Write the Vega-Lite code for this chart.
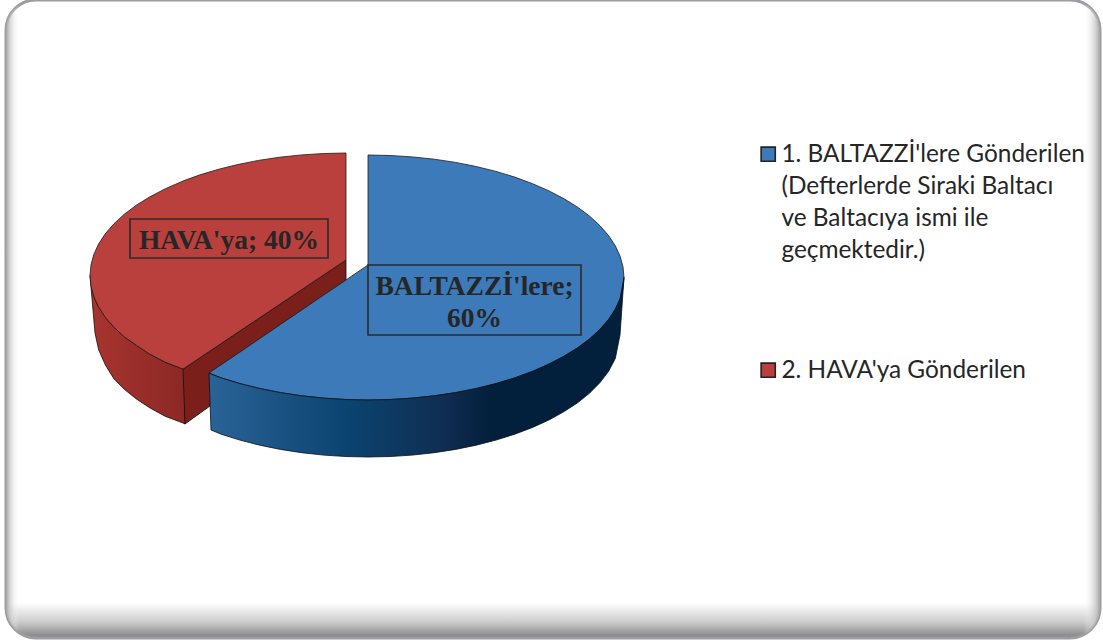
{
"$schema":"https://vega.github.io/schema/vega-lite/v6.json",
"width":1103,"height":641,"padding":0,"autosize":{"type":"none"},
"background":"#ffffff",
"view":{"stroke":null},
"config":{"style":{"guide-label":{"lineHeight":32,"dy":-11}}},
"datasets":{
"frame":[{"x":6,"x2":1100,"y":0,"y2":638}],
"redSide":[
{"x":90,"y":275.5,"y2":275.5},{"x":95,"y":299.6,"y2":333},{"x":98.7,"y":307.2,"y2":350},{"x":105.4,"y":317.4,"y2":365},{"x":114,"y":327.3,"y2":378.9},{"x":124.3,"y":336.8,"y2":389.3},{"x":136.3,"y":345.2,"y2":398.9},{"x":149.9,"y":354.2,"y2":407.9},{"x":165,"y":362.1,"y2":416.2},{"x":183,"y":369,"y2":423},{"x":185,"y":368,"y2":424}],
"redCut":[{"x":183,"y":369,"y2":369},{"x":185,"y":367.7,"y2":424},{"x":346,"y":260,"y2":308}],
"faces":[
{"series":"2. HAVA'ya Gönderilen","x":90,"y":275.5,"y2":275.5},
{"series":"2. HAVA'ya Gönderilen","x":91,"y":264.8,"y2":286.2},
{"series":"2. HAVA'ya Gönderilen","x":93.9,"y":254.2,"y2":296.8},
{"series":"2. HAVA'ya Gönderilen","x":98.7,"y":243.8,"y2":307.2},
{"series":"2. HAVA'ya Gönderilen","x":105.4,"y":233.6,"y2":317.4},
{"series":"2. HAVA'ya Gönderilen","x":114,"y":223.7,"y2":327.3},
{"series":"2. HAVA'ya Gönderilen","x":124.3,"y":214.2,"y2":336.8},
{"series":"2. HAVA'ya Gönderilen","x":136.3,"y":205.2,"y2":345.2},
{"series":"2. HAVA'ya Gönderilen","x":149.9,"y":196.8,"y2":354.2},
{"series":"2. HAVA'ya Gönderilen","x":165,"y":188.9,"y2":362.1},
{"series":"2. HAVA'ya Gönderilen","x":183,"y":181,"y2":369},
{"series":"2. HAVA'ya Gönderilen","x":199.2,"y":175.1,"y2":358.2},
{"series":"2. HAVA'ya Gönderilen","x":218,"y":169.4,"y2":345.6},
{"series":"2. HAVA'ya Gönderilen","x":237.8,"y":164.5,"y2":332.3},
{"series":"2. HAVA'ya Gönderilen","x":258.4,"y":160.4,"y2":318.6},
{"series":"2. HAVA'ya Gönderilen","x":279.7,"y":157.2,"y2":304.3},
{"series":"2. HAVA'ya Gönderilen","x":301.6,"y":154.9,"y2":289.7},
{"series":"2. HAVA'ya Gönderilen","x":323.7,"y":153.5,"y2":274.9},
{"series":"2. HAVA'ya Gönderilen","x":346,"y":153,"y2":260},
{"series":"1. BALTAZZİ'lere Gönderilen","x":209,"y":373,"y2":373},
{"series":"1. BALTAZZİ'lere Gönderilen","x":221.2,"y":364.7,"y2":377.9},
{"series":"1. BALTAZZİ'lere Gönderilen","x":240,"y":352,"y2":383.6},
{"series":"1. BALTAZZİ'lere Gönderilen","x":259.8,"y":338.5,"y2":388.5},
{"series":"1. BALTAZZİ'lere Gönderilen","x":280.4,"y":324.5,"y2":392.6},
{"series":"1. BALTAZZİ'lere Gönderilen","x":301.7,"y":310,"y2":395.8},
{"series":"1. BALTAZZİ'lere Gönderilen","x":323.6,"y":295.1,"y2":398.1},
{"series":"1. BALTAZZİ'lere Gönderilen","x":345.7,"y":280.2,"y2":399.5},
{"series":"1. BALTAZZİ'lere Gönderilen","x":368,"y":265,"y2":400},
{"series":"1. BALTAZZİ'lere Gönderilen","x":368,"y":155,"y2":400},
{"series":"1. BALTAZZİ'lere Gönderilen","x":390.3,"y":155.5,"y2":399.5},
{"series":"1. BALTAZZİ'lere Gönderilen","x":412.4,"y":156.9,"y2":398.1},
{"series":"1. BALTAZZİ'lere Gönderilen","x":434.3,"y":159.2,"y2":395.8},
{"series":"1. BALTAZZİ'lere Gönderilen","x":455.6,"y":162.4,"y2":392.6},
{"series":"1. BALTAZZİ'lere Gönderilen","x":476.2,"y":166.5,"y2":388.5},
{"series":"1. BALTAZZİ'lere Gönderilen","x":496,"y":171.4,"y2":383.6},
{"series":"1. BALTAZZİ'lere Gönderilen","x":514.8,"y":177.1,"y2":377.9},
{"series":"1. BALTAZZİ'lere Gönderilen","x":532.6,"y":183.7,"y2":371.3},
{"series":"1. BALTAZZİ'lere Gönderilen","x":549,"y":190.9,"y2":364.1},
{"series":"1. BALTAZZİ'lere Gönderilen","x":564.1,"y":198.8,"y2":356.2},
{"series":"1. BALTAZZİ'lere Gönderilen","x":577.7,"y":207.2,"y2":347.8},
{"series":"1. BALTAZZİ'lere Gönderilen","x":589.7,"y":216.2,"y2":338.8},
{"series":"1. BALTAZZİ'lere Gönderilen","x":600,"y":225.7,"y2":329.3},
{"series":"1. BALTAZZİ'lere Gönderilen","x":608.6,"y":235.6,"y2":319.4},
{"series":"1. BALTAZZİ'lere Gönderilen","x":615.3,"y":245.8,"y2":309.2},
{"series":"1. BALTAZZİ'lere Gönderilen","x":620.1,"y":256.2,"y2":298.8},
{"series":"1. BALTAZZİ'lere Gönderilen","x":623,"y":266.8,"y2":288.2},
{"series":"1. BALTAZZİ'lere Gönderilen","x":624,"y":277.5,"y2":277.5}],
"blueSide":[
{"x":209,"y":373,"y2":373},{"x":211,"y":374,"y2":430},{"x":221.2,"y":377.9,"y2":434.2},{"x":240,"y":383.6,"y2":440.1},{"x":259.8,"y":388.5,"y2":445.2},{"x":280.4,"y":392.6,"y2":449.4},{"x":301.7,"y":395.8,"y2":452.7},{"x":323.6,"y":398.1,"y2":455.1},{"x":345.7,"y":399.5,"y2":456.5},{"x":368,"y":400,"y2":457},{"x":390.3,"y":399.5,"y2":456.5},{"x":412.4,"y":398.1,"y2":455.1},{"x":434.3,"y":395.8,"y2":452.7},{"x":455.6,"y":392.6,"y2":449.4},{"x":476.2,"y":388.5,"y2":445.2},{"x":496,"y":383.6,"y2":440.1},{"x":514.8,"y":377.9,"y2":434.2},{"x":532.6,"y":371.3,"y2":427.4},{"x":549,"y":364.1,"y2":419.9},{"x":564.1,"y":356.2,"y2":411.6},{"x":577.7,"y":347.8,"y2":402.7},{"x":589.7,"y":338.8,"y2":393},{"x":600,"y":329.3,"y2":382.6},{"x":608.6,"y":319.4,"y2":371.3},{"x":615.3,"y":309.2,"y2":358.5},{"x":620,"y":299,"y2":335},{"x":624,"y":277.5,"y2":277.5}],
"boxes":[{"x":130,"x2":328,"y":219,"y2":258},{"x":368,"x2":581,"y":265,"y2":335}],
"labels":[{"x":229,"y":249,"t":"HAVA'ya; 40%"},{"x":474.5,"y":295,"t":"BALTAZZİ'lere;"},{"x":474.5,"y":327,"t":"60%"}]
},
"encoding":{
"x":{"field":"x","type":"quantitative","scale":{"domain":[0,1103]},"axis":null},
"y":{"field":"y","type":"quantitative","scale":{"domain":[641,0]},"axis":null}
},
"layer":[
{"data":{"name":"frame"},"mark":{"type":"rect","cornerRadius":30,"stroke":"#9c9ca2","strokeWidth":3,"fill":{"gradient":"linear","x1":0,"y1":0,"x2":0,"y2":1,"stops":[{"offset":0,"color":"#ffffff"},{"offset":0.945,"color":"#ffffff"},{"offset":0.975,"color":"#cccccc"},{"offset":1,"color":"#808080"}]}},"encoding":{"x2":{"field":"x2"},"y2":{"field":"y2"}}},
{"data":{"name":"frame"},"mark":{"type":"rect","cornerRadius":30,"fill":{"gradient":"linear","x1":0,"y1":0,"x2":1,"y2":0,"stops":[{"offset":0,"color":"rgba(170,170,170,1)"},{"offset":0.012,"color":"rgba(255,255,255,0)"},{"offset":0.985,"color":"rgba(255,255,255,0)"},{"offset":1,"color":"rgba(170,170,170,1)"}]}},"encoding":{"x2":{"field":"x2"},"y2":{"field":"y2"}}},
{"data":{"name":"redSide"},"mark":{"type":"area","stroke":"#1a0d0d","strokeWidth":0.8,"fill":{"gradient":"linear","x1":0,"y1":0,"x2":1,"y2":0,"stops":[{"offset":0,"color":"#a8342f"},{"offset":1,"color":"#8b2825"}]}},"encoding":{"y2":{"field":"y2"}}},
{"data":{"name":"redCut"},"mark":{"type":"area","stroke":"#1a0d0d","strokeWidth":0.8,"fill":"#7a1f19"},"encoding":{"y2":{"field":"y2"}}},
{"data":{"name":"faces"},"mark":{"type":"area","stroke":"#1a1a1a","strokeWidth":0.8},"encoding":{"y2":{"field":"y2"},
"color":{"field":"series","type":"nominal","scale":{"domain":["1. BALTAZZİ'lere Gönderilen","2. HAVA'ya Gönderilen"],"range":["#3d7ab9","#b9403d"]},
"legend":{"title":null,"orient":"none","legendX":756,"legendY":142,"symbolType":"square","symbolSize":200,"symbolStrokeColor":"#222222","symbolStrokeWidth":1.6,"symbolOpacity":1,"labelFont":"Lato","labelFontSize":24.4,"labelColor":"#262626","labelLimit":400,"labelBaseline":"top","labelOffset":1,"rowPadding":95,
"labelExpr":"indexof(datum.label,'1.')==0 ? [datum.label,'(Defterlerde Siraki Baltacı','ve Baltacıya ismi ile','geçmektedir.)'] : datum.label"}}}},
{"data":{"name":"blueSide"},"mark":{"type":"area","stroke":"#0a0f18","strokeWidth":0.8,"fill":{"gradient":"linear","x1":0,"y1":0,"x2":1,"y2":0,"stops":[{"offset":0,"color":"#2a6397"},{"offset":0.33,"color":"#0b4470"},{"offset":0.58,"color":"#0f2c50"},{"offset":0.68,"color":"#021f3b"},{"offset":1,"color":"#021f3b"}]}},"encoding":{"y2":{"field":"y2"}}},
{"data":{"name":"boxes"},"mark":{"type":"rect","fill":null,"stroke":"#2b2b2b","strokeWidth":1.6},"encoding":{"x2":{"field":"x2"},"y2":{"field":"y2"}}},
{"data":{"name":"labels"},"mark":{"type":"text","font":"Liberation Serif","fontWeight":"bold","fontSize":27.5,"color":"#262626","baseline":"alphabetic","align":"center"},"encoding":{"text":{"field":"t","type":"nominal"}}}
]
}
